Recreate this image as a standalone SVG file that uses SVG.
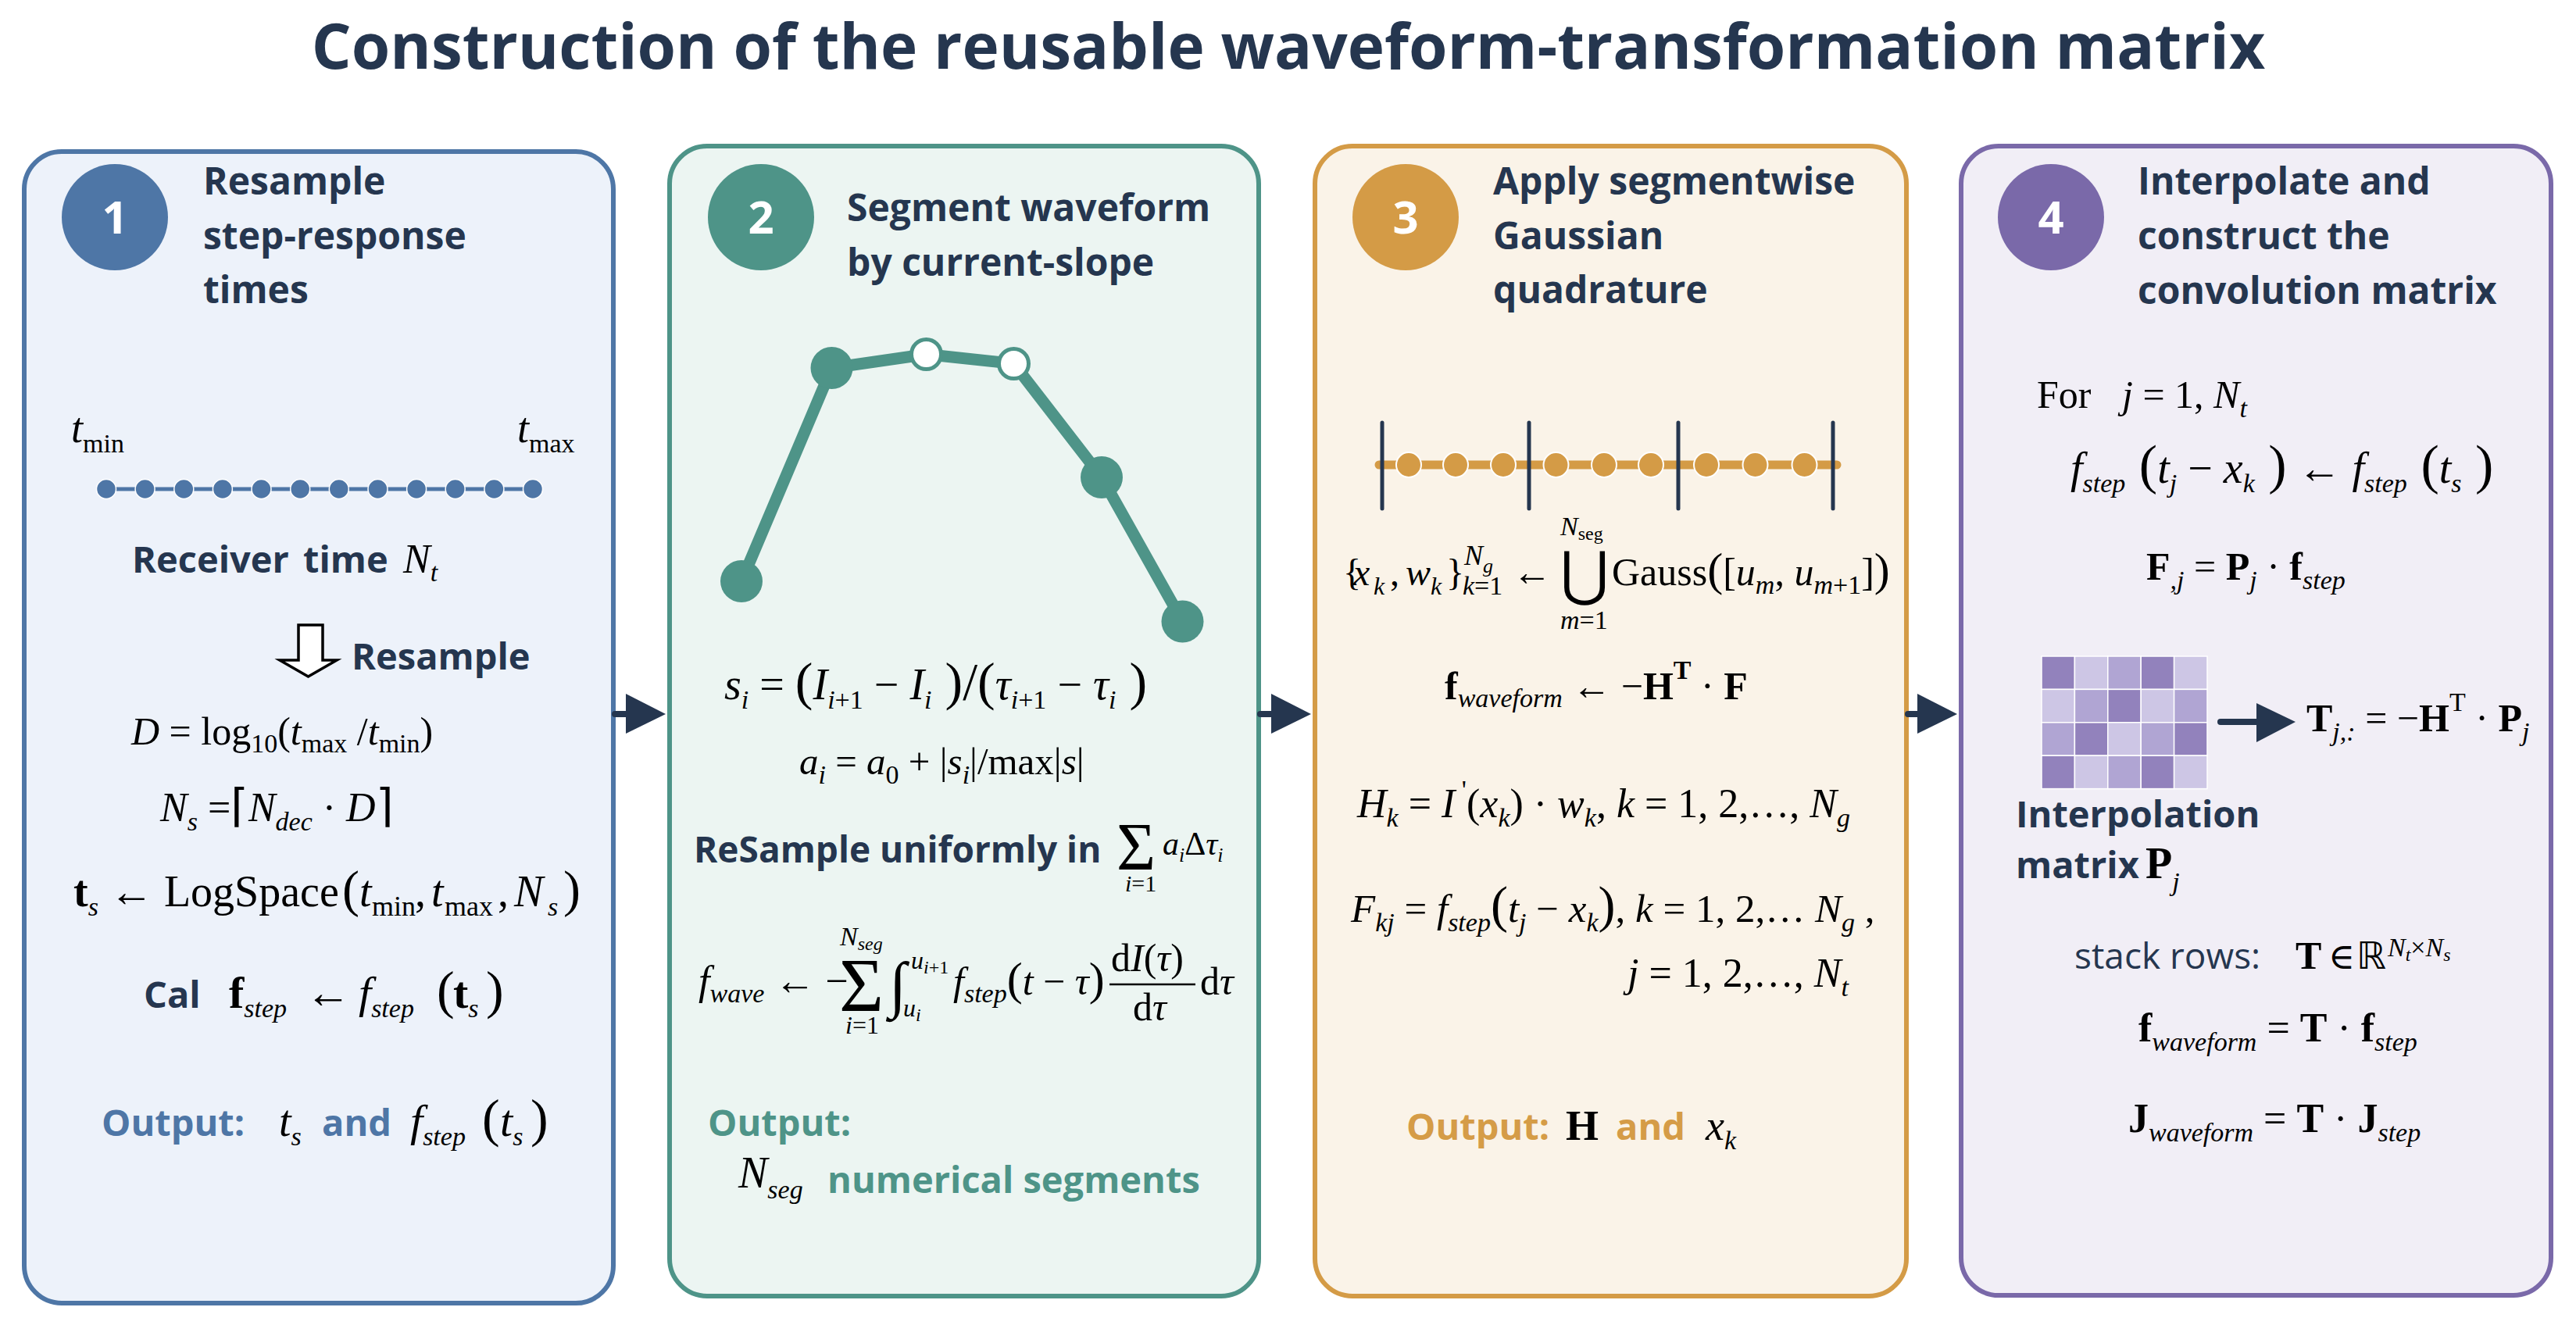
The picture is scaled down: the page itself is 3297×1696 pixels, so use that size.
<svg xmlns="http://www.w3.org/2000/svg" width="3297" height="1696" viewBox="0 0 3297 1696">
<style>
.ttl{font-family:"Open Sans","Liberation Sans",sans-serif;font-weight:700;font-size:80px;fill:#25364f}
.hd{font-family:"Open Sans","Liberation Sans",sans-serif;font-weight:700;font-size:48px;fill:#25364f}
.lb{font-family:"Open Sans","Liberation Sans",sans-serif;font-weight:700;fill:#25364f}
.rg{font-family:"Open Sans","Liberation Sans",sans-serif;font-weight:400;fill:#25364f}
.num{font-family:"Open Sans","Liberation Sans",sans-serif;font-weight:700;font-size:58px;fill:#ffffff;text-anchor:middle}
.m{font-family:"Liberation Serif","DejaVu Serif",serif;fill:#000000}
.it{font-style:italic}
.bf{font-weight:700}
.s{font-size:34px}
.ss{font-size:26px}
.sym{font-family:"DejaVu Sans","DejaVu Serif",sans-serif}
.blue{fill:#4e76a6}
.teal{fill:#4e9488}
.gold{fill:#d59c47}
.arr{fill:#25364f}
</style>

<text class="ttl" x="1649" y="88" text-anchor="middle">Construction of the reusable waveform-transformation matrix</text>

<!-- Panel 1 -->
<g id="panel1">
<rect x="31" y="194" width="754" height="1474" rx="48" fill="#edf2fa" stroke="#4e76a6" stroke-width="6"/>
<circle cx="147" cy="278" r="68" fill="#4e76a6"/>
<text class="num" x="147" y="299">1</text>
<text class="hd" x="260" y="249">Resample</text>
<text class="hd" x="260" y="319">step-response</text>
<text class="hd" x="260" y="388">times</text>
<text class="m it" x="91" y="566" font-size="54">t<tspan class="s" font-style="normal" dy="13">min</tspan></text>
<text class="m it" x="662" y="566" font-size="54">t<tspan class="s" font-style="normal" dy="13">max</tspan></text>
<line x1="136" y1="626" x2="682" y2="626" stroke="#4e76a6" stroke-width="5"/>
<g fill="#4e76a6" stroke="#ffffff" stroke-width="1.5">
<circle cx="136" cy="626" r="12.5"/><circle cx="185.6" cy="626" r="12.5"/><circle cx="235.3" cy="626" r="12.5"/><circle cx="284.9" cy="626" r="12.5"/><circle cx="334.5" cy="626" r="12.5"/><circle cx="384.2" cy="626" r="12.5"/><circle cx="433.8" cy="626" r="12.5"/><circle cx="483.5" cy="626" r="12.5"/><circle cx="533.1" cy="626" r="12.5"/><circle cx="582.7" cy="626" r="12.5"/><circle cx="632.4" cy="626" r="12.5"/><circle cx="682" cy="626" r="12.5"/>
</g>
<text class="lb" x="169" y="733" font-size="47">Receiver</text>
<text class="lb" x="388" y="733" font-size="47">time</text>
<text class="m it" x="516" y="733" font-size="52">N<tspan class="s" dy="11">t</tspan></text>
<polygon points="382,800 413,800 413,845 431,845 394.5,866 358,845 382,845" fill="#ffffff" stroke="#000000" stroke-width="3.5" stroke-linejoin="miter"/>
<text class="lb" x="450" y="857" font-size="47">Resample</text>
<text class="m" x="168" y="953" font-size="50"><tspan class="it">D</tspan> = log<tspan class="s" dy="10">10</tspan><tspan dy="-10">(</tspan><tspan class="it">t</tspan><tspan class="s" dy="10">max</tspan><tspan dy="-10"> /</tspan><tspan class="it">t</tspan><tspan class="s" dy="10">min</tspan><tspan dy="-10">)</tspan></text>
<text class="m" x="205" y="1051" font-size="52"><tspan class="it">N</tspan><tspan class="s it" dy="12">s</tspan><tspan dy="-12"> =</tspan><tspan class="sym" font-size="58">⌈</tspan><tspan class="it">N</tspan><tspan class="s it" dy="12">dec</tspan><tspan dy="-12"> · </tspan><tspan class="it">D</tspan><tspan class="sym" font-size="58">⌉</tspan></text>
<text class="m" x="94" y="1160" font-size="56"><tspan class="bf">t</tspan><tspan class="s it" dy="12">s</tspan><tspan dy="-12"> ← LogSpace</tspan><tspan x="438" font-size="66">(</tspan><tspan x="460" class="it">t</tspan><tspan x="476" font-size="36" dy="12">min</tspan><tspan x="531" dy="-12">,</tspan><tspan x="552" class="it">t</tspan><tspan x="569" font-size="36" dy="12">max</tspan><tspan x="637" dy="-12">,</tspan><tspan x="658" class="it">N</tspan><tspan x="701" class="s it" dy="12">s</tspan><tspan x="721" dy="-12" font-size="66">)</tspan></text>
<text class="lb" x="184" y="1290" font-size="47">Cal</text>
<text class="m" x="293" y="1290" font-size="58"><tspan class="bf">f</tspan><tspan class="s it" dy="12">step</tspan><tspan x="391" dy="-12">←</tspan><tspan x="459" class="it">f</tspan><tspan class="s it" dy="12">step</tspan><tspan x="559" dy="-12" font-size="68">(</tspan><tspan x="580" class="bf">t</tspan><tspan class="s it" dy="12">s</tspan><tspan x="622" dy="-12" font-size="68">)</tspan></text>
<text class="lb blue" x="130" y="1454" font-size="47">Output:</text>
<text class="m it" x="357" y="1454" font-size="56">t<tspan class="s" dy="12">s</tspan></text>
<text class="lb blue" x="412" y="1454" font-size="47">and</text>
<text class="m" x="525" y="1454" font-size="58"><tspan class="it">f</tspan><tspan class="s it" dy="12">step</tspan><tspan x="617" dy="-12" font-size="68">(</tspan><tspan x="640" class="it">t</tspan><tspan class="s it" dy="12">s</tspan><tspan x="679" dy="-12" font-size="68">)</tspan></text>
</g>

<!-- Panel 2 -->
<g id="panel2">
<rect x="857" y="187" width="754" height="1472" rx="48" fill="#ecf5f2" stroke="#4e9488" stroke-width="6"/>
<circle cx="974" cy="278" r="68" fill="#4e9488"/>
<text class="num" x="974" y="299">2</text>
<text class="hd" x="1084" y="283">Segment waveform</text>
<text class="hd" x="1084" y="353">by current-slope</text>
<polyline points="949,744 1064.5,471 1185.5,453.5 1297.5,465.5 1410,611 1513.5,795.5" fill="none" stroke="#4e9488" stroke-width="15" stroke-linejoin="round"/>
<g fill="#4e9488">
<circle cx="949" cy="744" r="27"/><circle cx="1064.5" cy="471" r="27"/><circle cx="1410" cy="611" r="27"/><circle cx="1513.5" cy="795.5" r="27"/>
</g>
<circle cx="1185.5" cy="453.5" r="19" fill="#ffffff" stroke="#4e9488" stroke-width="5"/>
<circle cx="1297.5" cy="465.5" r="19" fill="#ffffff" stroke="#4e9488" stroke-width="5"/>
<text class="m" x="927" y="895" font-size="56"><tspan class="it">s</tspan><tspan class="s it" dy="12">i</tspan><tspan dy="-12"> = </tspan><tspan font-size="68">(</tspan><tspan class="it">I</tspan><tspan class="s" dy="12"><tspan class="it">i</tspan>+1</tspan><tspan dy="-12"> − </tspan><tspan class="it">I</tspan><tspan class="s it" dy="12">i</tspan><tspan dy="-12" font-size="68"> )/(</tspan><tspan class="it">τ</tspan><tspan class="s" dy="12"><tspan class="it">i</tspan>+1</tspan><tspan dy="-12"> − </tspan><tspan class="it">τ</tspan><tspan class="s it" dy="12">i</tspan><tspan dy="-12" font-size="68"> )</tspan></text>
<text class="m" x="1023" y="991" font-size="49"><tspan class="it">a</tspan><tspan class="s it" dy="12">i</tspan><tspan dy="-12"> = </tspan><tspan class="it">a</tspan><tspan class="s" dy="12">0</tspan><tspan dy="-12"> + |</tspan><tspan class="it">s</tspan><tspan class="s it" dy="12">i</tspan><tspan dy="-12">|/max|</tspan><tspan class="it">s</tspan>|</text>
<text class="lb" x="888" y="1104" font-size="46">ReSample uniformly in</text>
<text class="m" x="1429" y="1113" font-size="86">Σ</text>
<text class="m" x="1488" y="1094" font-size="42"><tspan class="it">a</tspan><tspan class="ss it" dy="9">i</tspan><tspan dy="-9">Δ</tspan><tspan class="it">τ</tspan><tspan class="ss it" dy="9">i</tspan></text>
<text class="m" x="1440" y="1141" font-size="30"><tspan class="it">i</tspan>=1</text>
<text class="m" x="894" y="1273" font-size="52"><tspan class="it">f</tspan><tspan class="s it" dy="10">wave</tspan><tspan dy="-10"> ← −</tspan></text>
<text class="m" x="1074" y="1294" font-size="98">Σ</text>
<text class="m it" x="1075" y="1210" font-size="34">N<tspan font-size="24" dy="6">seg</tspan></text>
<text class="m" x="1082" y="1323" font-size="32"><tspan class="it">i</tspan>=1</text>
<text class="m" x="1138" y="1287" font-size="80">∫</text>
<text class="m it" x="1166" y="1240" font-size="32">u<tspan font-size="24" dy="6">i<tspan font-style="normal">+1</tspan></tspan></text>
<text class="m it" x="1156" y="1301" font-size="32">u<tspan font-size="24" dy="6">i</tspan></text>
<text class="m" x="1220" y="1273" font-size="50"><tspan class="it">f</tspan><tspan class="s it" dy="10">step</tspan><tspan dy="-10" font-size="60">(</tspan><tspan class="it">t</tspan> − <tspan class="it">τ</tspan><tspan font-size="60">)</tspan></text>
<text class="m" x="1422" y="1243" font-size="50">d<tspan class="it">I</tspan>(<tspan class="it">τ</tspan>)</text>
<line x1="1420" y1="1260" x2="1530" y2="1260" stroke="#000000" stroke-width="2.5"/>
<text class="m" x="1450" y="1306" font-size="50">d<tspan class="it">τ</tspan></text>
<text class="m" x="1536" y="1273" font-size="50">d<tspan class="it">τ</tspan></text>
<text class="lb teal" x="906" y="1454" font-size="47">Output:</text>
<text class="m it" x="945" y="1520" font-size="56">N<tspan class="s" dy="14">seg</tspan></text>
<text class="lb teal" x="1059" y="1527" font-size="47">numerical segments</text>
</g>

<!-- Panel 3 -->
<g id="panel3">
<rect x="1683" y="187" width="757" height="1472" rx="48" fill="#faf3e8" stroke="#d49b46" stroke-width="6"/>
<circle cx="1799" cy="278" r="68" fill="#d49b46"/>
<text class="num" x="1799" y="299">3</text>
<text class="hd" x="1911" y="249">Apply segmentwise</text>
<text class="hd" x="1911" y="319">Gaussian</text>
<text class="hd" x="1911" y="388">quadrature</text>
<line x1="1765" y1="595" x2="2351" y2="595" stroke="#d49b46" stroke-width="11" stroke-linecap="round"/>
<g fill="#d49b46" stroke="#ffffff" stroke-width="2">
<circle cx="1803" cy="595" r="16"/><circle cx="1863" cy="595" r="16"/><circle cx="1924" cy="595" r="16"/><circle cx="1991.5" cy="595" r="16"/><circle cx="2053" cy="595" r="16"/><circle cx="2113" cy="595" r="16"/><circle cx="2184" cy="595" r="16"/><circle cx="2246.5" cy="595" r="16"/><circle cx="2309.5" cy="595" r="16"/>
</g>
<g stroke="#25364f" stroke-width="5" stroke-linecap="round">
<line x1="1769" y1="541" x2="1769" y2="651"/><line x1="1957" y1="541" x2="1957" y2="651"/><line x1="2148" y1="541" x2="2148" y2="651"/><line x1="2346" y1="541" x2="2346" y2="651"/>
</g>
<text class="m" x="1719" y="749" font-size="48">{</text>
<text class="m it" x="1732" y="749" font-size="48">x</text>
<text class="m it" x="1758" y="761" font-size="32">k</text>
<text class="m" x="1779" y="749" font-size="48">,</text>
<text class="m it" x="1799" y="749" font-size="48">w</text>
<text class="m it" x="1831" y="761" font-size="32">k</text>
<text class="m" x="1851" y="749" font-size="48">}</text>
<text class="m it" x="1874" y="723" font-size="36">N<tspan font-size="26" dy="10">g</tspan></text>
<text class="m" x="1872" y="761" font-size="34"><tspan class="it">k</tspan>=1</text>
<text class="m" x="1936" y="749" font-size="50">←</text>
<text class="sym" x="1997" y="760" font-size="76" fill="#000000">⋃</text>
<text class="m it" x="1997" y="685" font-size="34">N<tspan font-size="24" font-style="normal" dy="6">seg</tspan></text>
<text class="m" x="1997" y="805" font-size="34"><tspan class="it">m</tspan>=1</text>
<text class="m" x="2063" y="749" font-size="50">Gauss<tspan font-size="60">(</tspan>[<tspan class="it">u</tspan><tspan class="s it" dy="11">m</tspan><tspan dy="-11">, </tspan><tspan class="it">u</tspan><tspan class="s" dy="11"><tspan class="it">m</tspan>+1</tspan><tspan dy="-11">]</tspan><tspan font-size="60">)</tspan></text>
<text class="m" x="1849" y="895" font-size="50"><tspan class="bf">f</tspan><tspan class="s it" dy="10">waveform</tspan><tspan dy="-10"> ← −</tspan><tspan class="bf">H</tspan><tspan class="s bf" dy="-26">T</tspan><tspan dy="26"> · </tspan><tspan class="bf">F</tspan></text>
<text class="m" x="1737" y="1046" font-size="52"><tspan class="it">H</tspan><tspan class="s it" dy="12">k</tspan><tspan dy="-12"> = </tspan><tspan class="it">I</tspan><tspan class="s" dy="-24"> '</tspan><tspan dy="24">(</tspan><tspan class="it">x</tspan><tspan class="s it" dy="12">k</tspan><tspan dy="-12">) · </tspan><tspan class="it">w</tspan><tspan class="s it" dy="12">k</tspan><tspan dy="-12">, </tspan><tspan class="it">k</tspan> = 1, 2,…, <tspan class="it">N</tspan><tspan class="s it" dy="12">g</tspan></text>
<text class="m" x="1729" y="1180" font-size="51"><tspan class="it">F</tspan><tspan class="s it" dy="12">kj</tspan><tspan dy="-12"> = </tspan><tspan class="it">f</tspan><tspan class="s it" dy="12">step</tspan><tspan dy="-12" font-size="66">(</tspan><tspan class="it">t</tspan><tspan class="s it" dy="12">j</tspan><tspan dy="-12"> − </tspan><tspan class="it">x</tspan><tspan class="s it" dy="12">k</tspan><tspan dy="-12" font-size="66">)</tspan>, <tspan class="it">k</tspan> = 1, 2,… <tspan class="it">N</tspan><tspan class="s it" dy="12">g</tspan><tspan dy="-12"> ,</tspan></text>
<text class="m" x="2083" y="1263" font-size="52"><tspan class="it">j</tspan> = 1, 2,…, <tspan class="it">N</tspan><tspan class="s it" dy="12">t</tspan></text>
<text class="lb gold" x="1800" y="1459" font-size="47">Output:</text>
<text class="m bf" x="2004" y="1459" font-size="54">H</text>
<text class="lb gold" x="2068" y="1459" font-size="47">and</text>
<text class="m it" x="2183" y="1459" font-size="54">x<tspan class="s" dy="12">k</tspan></text>
</g>

<!-- Panel 4 -->
<g id="panel4">
<rect x="2510" y="187" width="755" height="1471" rx="48" fill="#f1eef6" stroke="#7a69a9" stroke-width="6"/>
<circle cx="2625" cy="278" r="68" fill="#7a69a9"/>
<text class="num" x="2625" y="299">4</text>
<text class="hd" x="2736" y="249">Interpolate and</text>
<text class="hd" x="2736" y="319">construct the</text>
<text class="hd" x="2736" y="389">convolution matrix</text>
<text class="m" x="2607" y="522" font-size="50">For</text>
<text class="m" x="2716" y="522" font-size="50"><tspan class="it">j</tspan> = 1, <tspan class="it">N</tspan><tspan class="s it" dy="12">t</tspan></text>
<text class="m" x="2650" y="618" font-size="56"><tspan class="it">f</tspan><tspan class="s it" dy="12">step</tspan><tspan dy="-12" font-size="70"> (</tspan><tspan class="it">t</tspan><tspan class="s it" dy="12">j</tspan><tspan dy="-12"> − </tspan><tspan class="it">x</tspan><tspan class="s it" dy="12">k</tspan><tspan dy="-12" font-size="70"> )</tspan> ← <tspan class="it">f</tspan><tspan class="s it" dy="12">step</tspan><tspan dy="-12" font-size="70"> (</tspan><tspan class="it">t</tspan><tspan class="s it" dy="12">s</tspan><tspan dy="-12" font-size="70"> )</tspan></text>
<text class="m" x="2747" y="742" font-size="50"><tspan class="bf">F</tspan><tspan class="s it" dy="12">,j</tspan><tspan dy="-12"> = </tspan><tspan class="bf">P</tspan><tspan class="s it" dy="12">j</tspan><tspan dy="-12"> · </tspan><tspan class="bf">f</tspan><tspan class="s it" dy="12">step</tspan></text>
<g id="grid" stroke="#ffffff" stroke-width="1.5">
<rect x="2613" y="840" width="42.4" height="42.4" fill="#9282bc"/><rect x="2655.4" y="840" width="42.4" height="42.4" fill="#cdc6e5"/><rect x="2697.8" y="840" width="42.4" height="42.4" fill="#b0a5d3"/><rect x="2740.2" y="840" width="42.4" height="42.4" fill="#9282bc"/><rect x="2782.6" y="840" width="42.4" height="42.4" fill="#cdc6e5"/>
<rect x="2613" y="882.4" width="42.4" height="42.4" fill="#cdc6e5"/><rect x="2655.4" y="882.4" width="42.4" height="42.4" fill="#b0a5d3"/><rect x="2697.8" y="882.4" width="42.4" height="42.4" fill="#9282bc"/><rect x="2740.2" y="882.4" width="42.4" height="42.4" fill="#cdc6e5"/><rect x="2782.6" y="882.4" width="42.4" height="42.4" fill="#b0a5d3"/>
<rect x="2613" y="924.8" width="42.4" height="42.4" fill="#b0a5d3"/><rect x="2655.4" y="924.8" width="42.4" height="42.4" fill="#9282bc"/><rect x="2697.8" y="924.8" width="42.4" height="42.4" fill="#cdc6e5"/><rect x="2740.2" y="924.8" width="42.4" height="42.4" fill="#b0a5d3"/><rect x="2782.6" y="924.8" width="42.4" height="42.4" fill="#9282bc"/>
<rect x="2613" y="967.2" width="42.4" height="42.4" fill="#9282bc"/><rect x="2655.4" y="967.2" width="42.4" height="42.4" fill="#cdc6e5"/><rect x="2697.8" y="967.2" width="42.4" height="42.4" fill="#b0a5d3"/><rect x="2740.2" y="967.2" width="42.4" height="42.4" fill="#9282bc"/><rect x="2782.6" y="967.2" width="42.4" height="42.4" fill="#cdc6e5"/>
</g>
<line x1="2842" y1="924" x2="2892" y2="924" stroke="#25364f" stroke-width="8" stroke-linecap="round"/>
<polygon class="arr" points="2888,900 2938,924 2888,950"/>
<text class="m" x="2952" y="936" font-size="50"><tspan class="bf">T</tspan><tspan class="s it" dy="12">j,:</tspan><tspan dy="-12"> = −</tspan><tspan class="bf">H</tspan><tspan class="s" dy="-26">T</tspan><tspan dy="26"> · </tspan><tspan class="bf">P</tspan><tspan class="s it" dy="12">j</tspan></text>
<text class="lb" x="2580" y="1059" font-size="47">Interpolation</text>
<text class="lb" x="2580" y="1124" font-size="47">matrix</text>
<text class="m bf" x="2746" y="1124" font-size="56">P<tspan class="s it" font-weight="400" dy="16">j</tspan></text>
<text class="rg" x="2655" y="1240" font-size="46">stack rows:</text>
<text class="m bf" x="2938" y="1240" font-size="50">T</text>
<text class="m" x="2980" y="1240" font-size="46">∈</text>
<text class="sym" x="3016" y="1240" font-size="48" fill="#000000">ℝ</text>
<text class="m it" x="3056" y="1224" font-size="34">N<tspan font-size="24" dy="6">t</tspan><tspan dy="-6" font-style="normal">×</tspan>N<tspan font-size="24" dy="6">s</tspan></text>
<text class="m" x="2737" y="1333" font-size="52"><tspan class="bf">f</tspan><tspan class="s it" dy="12">waveform</tspan><tspan dy="-12"> = </tspan><tspan class="bf">T</tspan> · <tspan class="bf">f</tspan><tspan class="s it" dy="12">step</tspan></text>
<text class="m" x="2724" y="1449" font-size="52"><tspan class="bf">J</tspan><tspan class="s it" dy="12">waveform</tspan><tspan dy="-12"> = </tspan><tspan class="bf">T</tspan> · <tspan class="bf">J</tspan><tspan class="s it" dy="12">step</tspan></text>
</g>

<!-- Connectors -->
<g id="connectors" stroke="#25364f" stroke-width="8" stroke-linecap="round">
<line x1="787" y1="914" x2="806" y2="914"/>
<polygon points="801,888 852,914 801,939" fill="#25364f" stroke="none"/>
<line x1="1613" y1="914" x2="1632" y2="914"/>
<polygon points="1627,888 1678,914 1627,939" fill="#25364f" stroke="none"/>
<line x1="2442" y1="914" x2="2460" y2="914"/>
<polygon points="2454,888 2505,914 2454,939" fill="#25364f" stroke="none"/>
</g>
</svg>
